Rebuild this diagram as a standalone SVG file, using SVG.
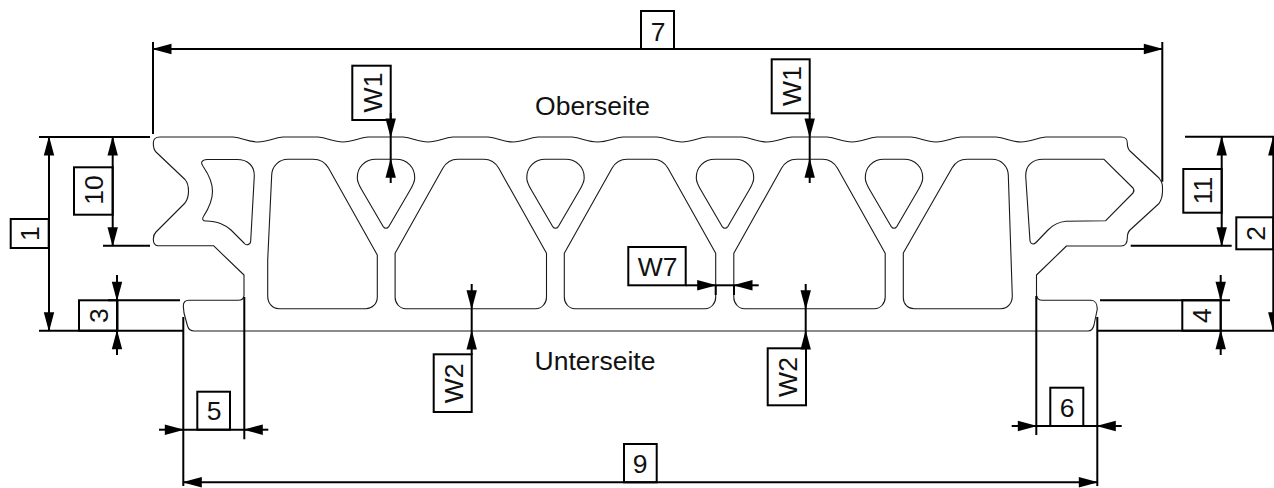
<svg xmlns="http://www.w3.org/2000/svg" width="1274" height="488" viewBox="0 0 1274 488">
<style>
.o{fill:none;stroke:#1a1a1a;stroke-width:1.1;stroke-linejoin:round}
.d{fill:none;stroke:#000;stroke-width:2}
.a{marker-end:url(#ar)}
.b{marker-start:url(#ar);marker-end:url(#ar)}
.t{font-family:"Liberation Sans",Arial,sans-serif;font-size:26.5px;fill:#111;text-anchor:middle}
</style>
<defs>
<marker id="ar" markerUnits="userSpaceOnUse" markerWidth="22" markerHeight="14" viewBox="0 0 22 14" refX="19.5" refY="7" orient="auto-start-reverse"><path d="M1 1.800 L20.500 7 L1 12.200 Z" fill="#000"/></marker>
<path id="tear" d="M-28.7 18.7 C-29 8 -21 0 -10 0 L10 0 C21 0 29 8 28.7 18.7 C28.7 23 27 26 24 31 L3 67 Q0 71 -3 67 L-24 31 C-27 26 -28.7 23 -28.7 18.7 Z"/>
<path id="trap" d="M-75.7 94 L-28 9 C-24.5 3 -20 0 -13 0 L13 0 C20 0 24.5 3 28 9 L75.7 94 L75.7 138 C75.7 144 71 149.4 65 149.4 L-65 149.4 C-71 149.4 -75.7 144 -75.7 138 Z"/>
</defs>
<g id="profile">
<path class="o" d="M160 137 L233 137 C243 138 248 142 258 142 C268 142 273 138 283 137 L318 137 C328 138 333 142 343 142 C353 142 358 138 368 137 L403 137 C413 138 418 142 428 142 C438 142 443 138 453 137 L488 137 C498 138 503 142 513 142 C523 142 528 138 538 137 L572 137 C582 138 587 142 597.500 142 C608 142 613 138 623 137 L657 137 C667 138 672 142 682 142 C692 142 697 138 707 137 L742 137 C752 138 757 142 767 142 C777 142 782 138 792 137 L827 137 C837 138 842 142 852 142 C862 142 867 138 877 137 L911 137 C921 138 926 142 936 142 C946 142 951 138 961 137 L996 137 C1006 138 1011 142 1021 142 C1031 142 1036 138 1046 137 L1121 137 C1126 137 1127.300 139 1127.300 143 C1127.300 147 1128 149 1130 151 L1159 178 C1163 183 1162.500 186 1162.500 191 C1162.500 196 1162 199 1159 203.500 L1130 230 C1128 232 1127.300 234 1127.300 238 C1127.300 243 1126 246 1121 246 L1066.500 246 L1036.500 275 L1036.500 295 C1036.500 298 1039 300.300 1042 300.300 L1091 300.300 C1095 300.300 1097.300 304 1097.300 309 L1094 325 C1093 329 1091 331 1088 331 L194 331 C190 331 188.500 329 187.500 326 L184 313 L183.300 306 C183.300 302 185 300.300 189 300.300 L238 300.300 C242 300.300 244 298 244 295 L244 275 L213.500 245.700 L158 245.700 C155 245.700 153.300 243 153.300 239 C153.300 236 154 234 156 232 L185 203 C188 199 188.500 196 188.500 191 C188.500 186 188 183 185 179.500 L156 152 C154 150 153.300 147 153.300 143 C153.300 139 156 137 160 137 Z"/>
<path class="o" d="M201.700 162 C203 160 204 159.500 207 159.500 L237 159.500 C248 159.500 254.500 166 254.300 176 L250.700 241 C250.500 245 246 246 244 243 L231 230 C224 224 218 221.500 206 221 L206 221 C203 221 201.500 219 203.500 216.500 C209 208 212.500 201 212.500 191.500 C212.500 182 209 175 203.500 167 C202.500 165 201 164 201.700 162 Z"/>
<path class="o" d="M271.700 175 C272 166 279 159.300 288 159.300 L313 159.300 C320 159.300 325 162 328.500 168 L377.300 255 L377.300 297 C377.300 304 372 308.700 366 308.700 L279 308.700 C272 308.700 267.700 303 267.700 296 L267.700 260 Z"/>
<use class="o" href="#tear" x="386" y="159.300"/>
<use class="o" href="#tear" x="555.500" y="159.300"/>
<use class="o" href="#tear" x="725" y="159.300"/>
<use class="o" href="#tear" x="894" y="159.300"/>
<use class="o" href="#trap" x="470.800" y="159.300"/>
<use class="o" href="#trap" x="640" y="159.300"/>
<use class="o" href="#trap" x="809.500" y="159.300"/>
<path class="o" d="M903.300 253 L952 168 C955.500 162 960 159.300 967 159.300 L992 159.300 C1001 159.300 1008 166 1008.300 175 L1012.300 296 C1012.300 303 1008 308.700 1001 308.700 L914 308.700 C908 308.700 903.300 304 903.300 298 Z"/>
<path class="o" d="M1025.700 176 C1025.500 166 1032 159.300 1043 159.300 L1104 159.300 L1133 188 C1134.500 190 1134.500 191 1133 193 L1105.700 220.700 L1066 221.300 C1058 222 1053 225 1048 230 L1036 242.500 C1033.500 245 1030.500 244 1030 241 Z"/>
</g>
<g id="connectors">
<g id="extensions">
<path class="d" d="M39 137H150M39 330.700H183M103 245.700H150M108 300.300H180M153 42V134M1162.300 42V181.700M1185 136.700H1274M1130.700 245.700H1231.700M1100 300.300H1230M1098 330.700H1274M183.300 317V486M244.300 297V439.300M1036.300 296V435M1097.300 317V486M715.700 285.300V295M734 285.300V295"/>
</g>
<line id="dim1" class="d b" x1="49" y1="137" x2="49" y2="330.700"/>
<line id="dim10" class="d b" x1="112.700" y1="137" x2="112.700" y2="245.700"/>
<line id="dim11" class="d b" x1="1221.700" y1="137" x2="1221.700" y2="245.700"/>
<line id="dim2" class="d b" x1="1273.300" y1="137" x2="1273.300" y2="330.700"/>
<line id="dim7" class="d b" x1="153" y1="49" x2="1162.300" y2="49"/>
<line id="dim9" class="d b" x1="183.300" y1="482.300" x2="1097.300" y2="482.300"/>
<path class="d a" d="M117 275V300.300"/><path class="d a" d="M117 355V330.700"/><path class="d" d="M117 300.300V330.700"/>
<path class="d a" d="M1220.700 275V300.300"/><path class="d a" d="M1220.700 355V330.700"/><path class="d" d="M1220.700 300.300V330.700"/>
<path class="d a" d="M159 429.700H183.300"/><path class="d a" d="M268.300 429.700H244.300"/>
<path class="d" d="M183.300 429.700H244.300"/>
<path class="d a" d="M1011.700 426H1036.300"/><path class="d a" d="M1121.700 426H1097.300"/>
<path class="d" d="M1036.300 426H1097.300"/>
<path class="d a" d="M390.700 113V137"/><path class="d a" d="M390.700 183V159.300"/><path class="d" d="M390.700 137V159.300"/>
<path class="d a" d="M809.700 113V137"/><path class="d a" d="M809.700 183V159.300"/><path class="d" d="M809.700 137V159.300"/>
<path class="d a" d="M685.700 285.300H715.700"/><path class="d a" d="M758.700 285.300H734"/><path class="d" d="M715.700 285.300H734"/>
<path class="d a" d="M471.700 284V308.700"/><path class="d a" d="M471.700 355V331"/><path class="d" d="M471.700 308.700V331"/>
<path class="d a" d="M805.700 284V308.700"/><path class="d a" d="M805.700 349V331"/><path class="d" d="M805.700 308.700V331"/>
</g>
<g id="label-1"><rect class="d" x="10.700" y="219" width="38" height="29"/><text class="t" transform="translate(38.500 233.500) rotate(-90)">1</text></g>
<g id="label-2"><rect class="d" x="1236.300" y="217.300" width="37" height="32"/><text class="t" transform="translate(1264.500 233.300) rotate(-90)">2</text></g>
<g id="label-3"><rect class="d" x="79" y="300.300" width="38.500" height="30.400"/><text class="t" transform="translate(108 315.500) rotate(-90)">3</text></g>
<g id="label-4"><rect class="d" x="1182.300" y="300.300" width="38.400" height="30.400"/><text class="t" transform="translate(1210.500 315.500) rotate(-90)">4</text></g>
<g id="label-5"><rect class="d" x="197.300" y="391.700" width="32.700" height="38"/><text class="t" x="214" y="420">5</text></g>
<g id="label-6"><rect class="d" x="1050.300" y="387.700" width="33" height="38.300"/><text class="t" x="1067" y="416.700">6</text></g>
<g id="label-7"><rect class="d" x="641" y="11" width="33" height="38"/><text class="t" x="658" y="40.500">7</text></g>
<g id="label-9"><rect class="d" x="624" y="444" width="32.700" height="38.300"/><text class="t" x="640" y="473.300">9</text></g>
<g id="label-10"><rect class="d" x="74" y="167.300" width="38.700" height="47.400"/><text class="t" transform="translate(103 190) rotate(-90)">10</text></g>
<g id="label-11"><rect class="d" x="1183.300" y="169" width="38.400" height="43.700"/><text class="t" transform="translate(1212 190.500) rotate(-90)">11</text></g>
<g id="label-w1a"><rect class="d" x="352.300" y="65.700" width="38.400" height="54.300"/><text class="t" transform="translate(382 92.500) rotate(-90)">W1</text></g>
<g id="label-w1b"><rect class="d" x="771.700" y="59.300" width="38" height="54"/><text class="t" transform="translate(801 86) rotate(-90)">W1</text></g>
<g id="label-w2a"><rect class="d" x="433.700" y="354.300" width="38" height="57.700"/><text class="t" transform="translate(462.500 383.300) rotate(-90)">W2</text></g>
<g id="label-w2b"><rect class="d" x="767.700" y="348.300" width="38.300" height="57"/><text class="t" transform="translate(797 377) rotate(-90)">W2</text></g>
<g id="label-w7"><rect class="d" x="628.300" y="247" width="57.400" height="38.300"/><text class="t" x="657.500" y="275.700">W7</text></g>
<text id="oberseite" class="t" x="592.500" y="115.300">Oberseite</text>
<text id="unterseite" class="t" x="595" y="370">Unterseite</text>
</svg>
